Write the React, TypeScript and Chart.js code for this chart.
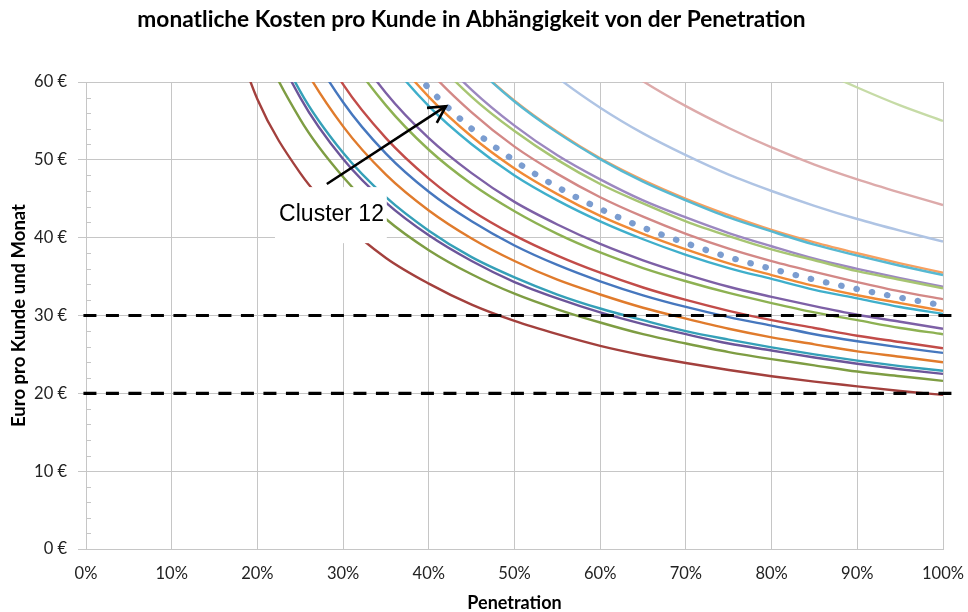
import React, { useEffect, useRef } from "react";
import { Chart, registerables } from "chart.js";

Chart.register(...registerables);

const TITLE = "monatliche Kosten pro Kunde in Abhängigkeit von der Penetration";
const X_TITLE = "Penetration";
const Y_TITLE = "Euro pro Kunde und Monat";

// penetration sample points (x values)
const penetration = [0.15, 0.2, 0.25, 0.3, 0.35, 0.4, 0.45, 0.5, 0.55, 0.6, 0.65, 0.7, 0.75, 0.8, 0.85, 0.9, 0.95, 1.0];

// monthly cost per customer (Euro), one array per cluster
const c01 = [73.6, 57.8, 48.3, 42.0, 37.4, 34.1, 31.4, 29.3, 27.6, 26.1, 24.9, 23.9, 23.0, 22.2, 21.5, 20.9, 20.3, 19.8];
const c02 = [85.1, 66.4, 55.2, 47.8, 42.4, 38.4, 35.3, 32.8, 30.8, 29.1, 27.6, 26.4, 25.3, 24.4, 23.6, 22.8, 22.2, 21.6];
const c03 = [89.6, 69.9, 58.0, 50.1, 44.5, 40.3, 37.0, 34.3, 32.2, 30.4, 28.9, 27.6, 26.4, 25.5, 24.6, 23.8, 23.1, 22.5];
const c04 = [90.8, 70.8, 58.8, 50.9, 45.2, 40.9, 37.5, 34.9, 32.7, 30.9, 29.4, 28.0, 26.9, 25.9, 25.0, 24.2, 23.5, 22.9];
const c05 = [97.6, 75.9, 62.9, 54.3, 48.1, 43.5, 39.9, 37.0, 34.6, 32.7, 31.0, 29.6, 28.3, 27.2, 26.3, 25.4, 24.7, 24.0];
const c06 = [103.4, 80.4, 66.6, 57.4, 50.8, 45.9, 42.1, 39.0, 36.5, 34.4, 32.6, 31.1, 29.8, 28.7, 27.6, 26.7, 25.9, 25.2];
const c07 = [108.1, 83.9, 69.4, 59.7, 52.8, 47.6, 43.5, 40.3, 37.7, 35.5, 33.6, 32.0, 30.6, 29.4, 28.4, 27.4, 26.6, 25.8];
const c08 = [null, 90.8, 75.0, 64.5, 57.0, 51.3, 46.9, 43.4, 40.5, 38.1, 36.1, 34.4, 32.9, 31.6, 30.4, 29.4, 28.4, 27.6];
const c09 = [null, 93.6, 77.3, 66.4, 58.6, 52.8, 48.3, 44.6, 41.7, 39.2, 37.1, 35.3, 33.7, 32.4, 31.2, 30.1, 29.2, 28.3];
const c10 = [null, null, 83.6, 71.7, 63.3, 56.9, 52.0, 48.0, 44.8, 42.1, 39.8, 37.8, 36.1, 34.7, 33.3, 32.2, 31.1, 30.2];
const c11 = [null, null, 85.6, 73.4, 64.6, 58.1, 53.0, 48.9, 45.6, 42.8, 40.5, 38.5, 36.7, 35.2, 33.8, 32.6, 31.6, 30.6];
const c12 = [null, null, 87.0, 74.7, 65.8, 59.2, 54.0, 49.9, 46.5, 43.7, 41.3, 39.3, 37.5, 36.0, 34.6, 33.4, 32.3, 31.3];
const c13 = [null, null, null, 77.9, 68.6, 61.5, 56.1, 51.7, 48.2, 45.2, 42.7, 40.5, 38.6, 37.0, 35.6, 34.3, 33.1, 32.1];
const c14 = [null, null, null, 80.5, 70.9, 63.7, 58.1, 53.7, 50.0, 46.9, 44.4, 42.1, 40.2, 38.5, 37.1, 35.7, 34.6, 33.5];
const c15 = [null, null, null, 81.9, 72.1, 64.7, 59.0, 54.4, 50.6, 47.5, 44.8, 42.6, 40.6, 38.9, 37.3, 36.0, 34.8, 33.7];
const c16 = [null, null, null, null, 76.7, 68.7, 62.5, 57.5, 53.5, 50.1, 47.2, 44.8, 42.6, 40.8, 39.1, 37.7, 36.4, 35.2];
const c17 = [null, null, null, null, 76.5, 68.6, 62.5, 57.6, 53.6, 50.2, 47.4, 45.0, 42.9, 41.0, 39.4, 38.0, 36.7, 35.5];
const c18 = [null, null, null, null, null, null, 71.0, 65.3, 60.6, 56.7, 53.4, 50.6, 48.1, 46.0, 44.1, 42.4, 40.9, 39.5];
const c19 = [null, null, null, null, null, null, null, null, 68.4, 63.9, 60.1, 56.9, 54.1, 51.6, 49.4, 47.5, 45.8, 44.2];
const c20 = [null, null, null, null, null, null, null, null, null, null, null, null, 67.8, 64.6, 61.8, 59.3, 57.0, 55.0];

const clusterValues = [c01, c02, c03, c04, c05, c06, c07, c08, c09, c10, c11, c12, c13, c14, c15, c16, c17, c18, c19, c20];
const clusterColors = [
  "#A3403D", "#7E9D43", "#6C559A", "#35A0B8", "#E07B2C", "#4677BE", "#C24C49", "#8DB152", "#7D60A6", "#3FAFCB",
  "#F08A35", "#7B9DD0", "#D38886", "#A7C572", "#9C88C0", "#57B9D2", "#F7A060", "#AFC4E4", "#DDAAAA", "#C6DBA6",
];
const highlightIndex = 11; // Cluster 12, dotted

// threshold lines (Euro) and their x extent
const thresholds = [30, 20];
const thresholdExtent = [-0.003, 1.02];

// y tick values
const yTicks = [0, 10, 20, 30, 40, 50, 60];

// annotation (data coordinates)
const annotationText = "Cluster 12";
const annotationBox = { x0: 0.2205, x1: 0.351, y0: 39.3, y1: 46.5 };
const annotationTextPos = { x: 0.2865, y: 42.9 };
const arrowFrom = { x: 0.281, y: 46.9 };
const arrowTo = { x: 0.42, y: 56.9 };

const FONT = "Lato";

const minorTicksPlugin = {
  id: "minorTicks",
  afterDatasetsDraw(chart: any) {
    const { ctx, chartArea, scales } = chart;
    const y = scales.y;
    ctx.save();
    ctx.strokeStyle = "#c6c6c6";
    ctx.lineWidth = 1;
    for (let v = 2; v < 60; v += 2) {
      if (v % 10 === 0) continue;
      const py = Math.round(y.getPixelForValue(v)) + 0.5;
      ctx.beginPath();
      ctx.moveTo(chartArea.left, py);
      ctx.lineTo(chartArea.left + 5, py);
      ctx.stroke();
    }
    ctx.restore();
  },
};

const annotationPlugin = {
  id: "clusterAnnotation",
  afterDraw(chart: any) {
    const { ctx, scales } = chart;
    const sx = scales.x;
    const sy = scales.y;
    const bx0 = sx.getPixelForValue(annotationBox.x0);
    const bx1 = sx.getPixelForValue(annotationBox.x1);
    const by0 = sy.getPixelForValue(annotationBox.y1);
    const by1 = sy.getPixelForValue(annotationBox.y0);
    ctx.save();
    ctx.fillStyle = "#ffffff";
    ctx.fillRect(bx0, by0, bx1 - bx0, by1 - by0);
    ctx.fillStyle = "#000000";
    ctx.font = '23px "Liberation Sans", Arial, sans-serif';
    ctx.textAlign = "center";
    ctx.textBaseline = "middle";
    ctx.fillText(annotationText, sx.getPixelForValue(annotationTextPos.x), sy.getPixelForValue(annotationTextPos.y));

    const x1 = sx.getPixelForValue(arrowFrom.x);
    const y1 = sy.getPixelForValue(arrowFrom.y);
    const x2 = sx.getPixelForValue(arrowTo.x);
    const y2 = sy.getPixelForValue(arrowTo.y);
    ctx.strokeStyle = "#000000";
    ctx.lineWidth = 2.6;
    ctx.lineCap = "butt";
    ctx.beginPath();
    ctx.moveTo(x1, y1);
    ctx.lineTo(x2, y2);
    ctx.stroke();
    const ang = Math.atan2(y1 - y2, x1 - x2);
    const head = 19;
    const spread = (28 * Math.PI) / 180;
    ctx.lineJoin = "miter";
    ctx.beginPath();
    ctx.moveTo(x2 + head * Math.cos(ang + spread), y2 + head * Math.sin(ang + spread));
    ctx.lineTo(x2, y2);
    ctx.lineTo(x2 + head * Math.cos(ang - spread), y2 + head * Math.sin(ang - spread));
    ctx.stroke();
    ctx.restore();
  },
};

export default function App() {
  const canvasRef = useRef<HTMLCanvasElement | null>(null);

  useEffect(() => {
    if (!canvasRef.current) return;

    const thresholdSets = thresholds.map((t) => ({
      label: `Grenze ${t}`,
      data: thresholdExtent.map((x) => ({ x, y: t })),
      borderColor: "#000000",
      borderWidth: 3.2,
      borderDash: [13, 9.5],
      pointRadius: 0,
      fill: false,
      clip: { left: 6, right: 20, top: 2, bottom: 2 },
    }));

    const clusterSets = clusterValues.map((vals, i) => {
      const isHi = i === highlightIndex;
      return {
        label: `Cluster ${i + 1}`,
        data: penetration
          .map((x, j) => ({ x, y: vals[j] }))
          .filter((p) => p.y !== null && p.y !== undefined),
        borderColor: clusterColors[i],
        borderWidth: isHi ? 6.2 : 2.4,
        borderDash: isHi ? [0.5, 15.1] : [],
        borderCapStyle: isHi ? "round" : "butt",
        pointRadius: 0,
        fill: false,
        cubicInterpolationMode: "monotone",
      };
    });

    const chart = new Chart(canvasRef.current, {
      type: "line",
      data: { datasets: [...thresholdSets, ...clusterSets] as any },
      plugins: [minorTicksPlugin, annotationPlugin],
      options: {
        responsive: false,
        animation: false,
        devicePixelRatio: 1,
        events: [],
        layout: { padding: { left: 0, right: 25, top: 0, bottom: 0 } },
        plugins: {
          legend: { display: false },
          tooltip: { enabled: false },
          title: {
            display: true,
            text: TITLE,
            color: "#000000",
            font: { family: FONT, size: 22.7, weight: "bold" },
            padding: { top: 6.5, bottom: 48.3 },
          },
        },
        scales: {
          x: {
            type: "linear",
            min: 0,
            max: 1,
            afterFit: (s: any) => {
              s.height = 63;
            },
            ticks: {
              stepSize: 0.1,
              padding: 2,
              color: "#222222",
              font: { family: FONT, size: 16.5 },
              callback: (v: any) => `${Math.round(Number(v) * 100)}%`,
              maxRotation: 0,
            },
            grid: { color: "#c6c6c6", lineWidth: 1, drawTicks: true, tickLength: 13, tickColor: "rgba(0,0,0,0)" },
            border: { display: true, color: "#c6c6c6" },
            title: {
              display: true,
              text: X_TITLE,
              color: "#000000",
              font: { family: FONT, size: 18, weight: "bold" },
              padding: { top: 0, bottom: -2 },
            },
          },
          y: {
            type: "linear",
            min: 0,
            max: 60,
            afterFit: (s: any) => {
              s.width = 86;
            },
            afterBuildTicks: (s: any) => {
              s.ticks = yTicks.map((v) => ({ value: v }));
            },
            ticks: {
              padding: 11,
              color: "#222222",
              font: { family: FONT, size: 16.5 },
              callback: (v: any) => `${v} €`,
            },
            grid: { color: "#c6c6c6", lineWidth: 1, drawTicks: true, tickLength: 8 },
            border: { display: true, color: "#c6c6c6" },
            title: {
              display: true,
              text: Y_TITLE,
              color: "#000000",
              font: { family: FONT, size: 18.5, weight: "bold" },
              padding: { top: 8, bottom: 0 },
            },
          },
        },
      } as any,
    });

    return () => chart.destroy();
  }, []);

  return (
    <div style={{ position: "fixed", left: 0, top: 0, width: 968, height: 612, background: "#ffffff" }}>
      <canvas ref={canvasRef} width={968} height={612} style={{ width: 968, height: 612, display: "block" }} />
    </div>
  );
}
